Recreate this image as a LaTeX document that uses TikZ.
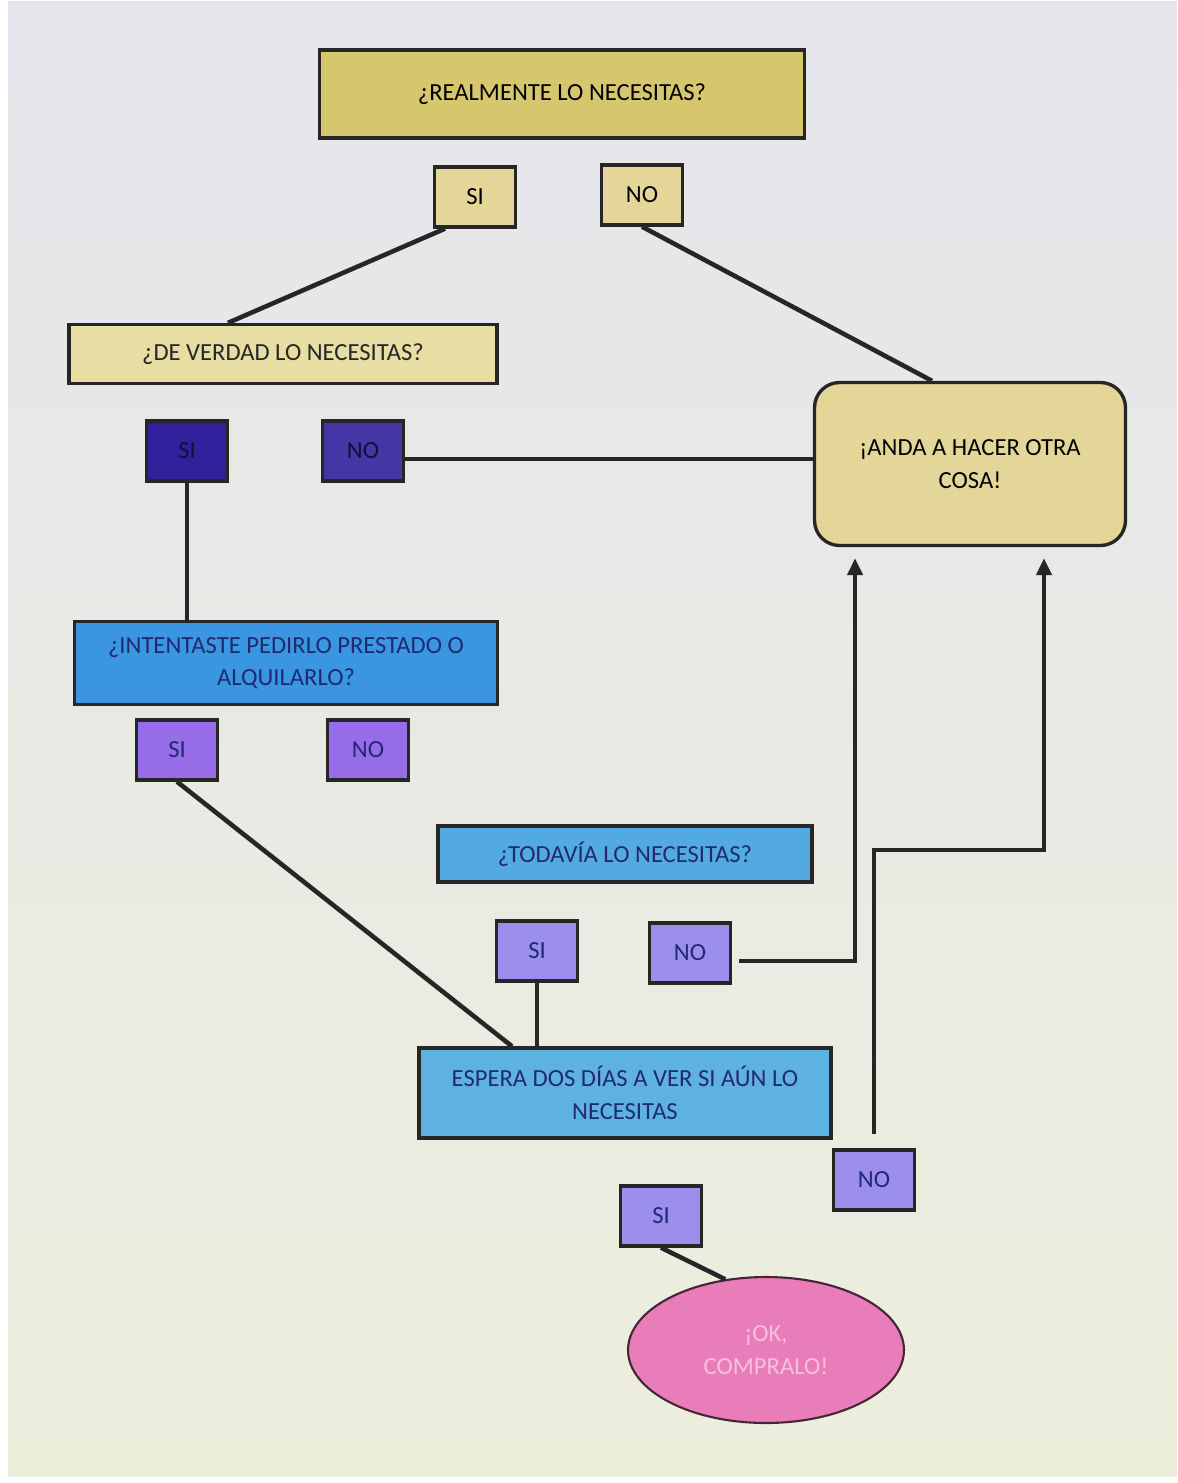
\documentclass[tikz,border=0pt]{standalone}
\usepackage{fontspec}
\setmainfont{Carlito}
\usetikzlibrary{arrows.meta,shapes.geometric}

\definecolor{mostaza}{RGB}{214,198,110}
\definecolor{crema}{RGB}{228,214,152}
\definecolor{cremaclara}{RGB}{232,221,162}
\definecolor{marino}{RGB}{48,32,155}
\definecolor{azul}{RGB}{58,150,225}
\definecolor{celeste}{RGB}{82,170,224}
\definecolor{celesteclaro}{RGB}{94,178,226}
\definecolor{morado}{RGB}{150,108,232}
\definecolor{lavanda}{RGB}{156,142,236}
\definecolor{rosa}{RGB}{232,125,185}
\definecolor{rosaclaro}{RGB}{246,192,222}
\definecolor{tinta}{RGB}{32,42,112}
\definecolor{fondoA}{RGB}{230,229,236}
\definecolor{fondoB}{RGB}{236,238,220}

\begin{document}
\begin{tikzpicture}[x=0.02cm,y=-0.02cm,
    caja/.style={draw=black!85,line width=1.9pt,align=center,inner sep=2pt,
                 font=\fontsize{14}{18.5}\selectfont},
    resp/.style={caja,minimum width=1.62cm,minimum height=1.2cm},
    linea/.style={line width=2.6pt,black!85},
    flecha/.style={linea,-{Triangle[length=0.34cm,width=0.3cm]},shorten >=0.22cm},
  ]
    \useasboundingbox (0,0) rectangle (1177,1483);
    \fill[white] (0,0) rectangle (1177,1483);
    \shade[top color=fondoA,bottom color=fondoB] (8,2) rectangle (1177,1476);

    % preguntas
    \node[caja,fill=mostaza,minimum width=9.7cm,minimum height=1.76cm] (real) at (562,94) {¿REALMENTE LO NECESITAS?};
    \node[caja,fill=cremaclara,minimum width=8.56cm,minimum height=1.18cm,text=black!85] (deverdad) at (283,354) {¿DE VERDAD LO NECESITAS?};
    \node[caja,fill=azul,minimum width=8.46cm,minimum height=1.66cm,text=tinta] (presta) at (286,663) {¿INTENTASTE PEDIRLO PRESTADO O\\ALQUILARLO?};
    \node[caja,fill=celeste,minimum width=7.48cm,minimum height=1.12cm,text=tinta] (todavia) at (625,854) {¿TODAVÍA LO NECESITAS?};
    \node[caja,fill=celesteclaro,minimum width=8.24cm,minimum height=1.8cm,text=tinta] (espera) at (625,1093) {ESPERA DOS DÍAS A VER SI AÚN LO\\NECESITAS};

    % finales
    \node[caja,fill=crema,rounded corners=0.5cm,minimum width=6.22cm,minimum height=3.26cm] (anda) at (970,464) {¡ANDA A HACER OTRA\\COSA!};
    \node[ellipse,draw=black!70!rosa,line width=1.2pt,fill=rosa,text=rosaclaro,align=center,
          minimum width=5.52cm,minimum height=2.92cm,font=\fontsize{14}{18.5}\selectfont] (ok) at (766,1350) {¡OK,\\COMPRALO!};

    % respuestas
    \node[resp,fill=crema] (si1) at (475,197) {SI};
    \node[resp,fill=crema] (no1) at (642,195) {NO};
    \node[resp,fill=marino,text=black!60!marino] (si2) at (187,451) {SI};
    \node[resp,fill=marino!90!white,text=black!60!marino] (no2) at (363,451) {NO};
    \node[resp,fill=morado,text=tinta] (si3) at (177,750) {SI};
    \node[resp,fill=morado,text=tinta] (no3) at (368,750) {NO};
    \node[resp,fill=lavanda,text=tinta] (si4) at (537,951) {SI};
    \node[resp,fill=lavanda,text=tinta] (no4) at (690,953) {NO};
    \node[resp,fill=lavanda,text=tinta] (si5) at (661,1216) {SI};
    \node[resp,fill=lavanda,text=tinta] (no5) at (874,1180) {NO};

    \coordinate (giro) at (1044,850);

    % conexiones
    \draw[linea] ([xshift=-0.6cm]si1.south) -- ([xshift=-1.1cm]deverdad.north);
    \draw[linea] (no1.south) -- ([xshift=-0.76cm]anda.north);
    \draw[linea] ([yshift=-0.16cm]no2.east) -- ([yshift=-0.16cm]no2.east -| anda.west);
    \draw[linea] (si2.south) -- (si2.south |- presta.north);
    \draw[linea] (si3.south) -- ([xshift=-2.26cm]espera.north);
    \draw[linea] (si4.south) -- (si4.south |- espera.north);
    \draw[linea] (si5.south) -- (ok.120);
    \draw[flecha] ([xshift=0.14cm,yshift=-0.16cm]no4.east) -| ([xshift=-2.3cm]anda.south);
    \draw[flecha,shorten <=0.28cm] (no5.north) |- (giro) -- (giro |- anda.south);
\end{tikzpicture}
\end{document}
